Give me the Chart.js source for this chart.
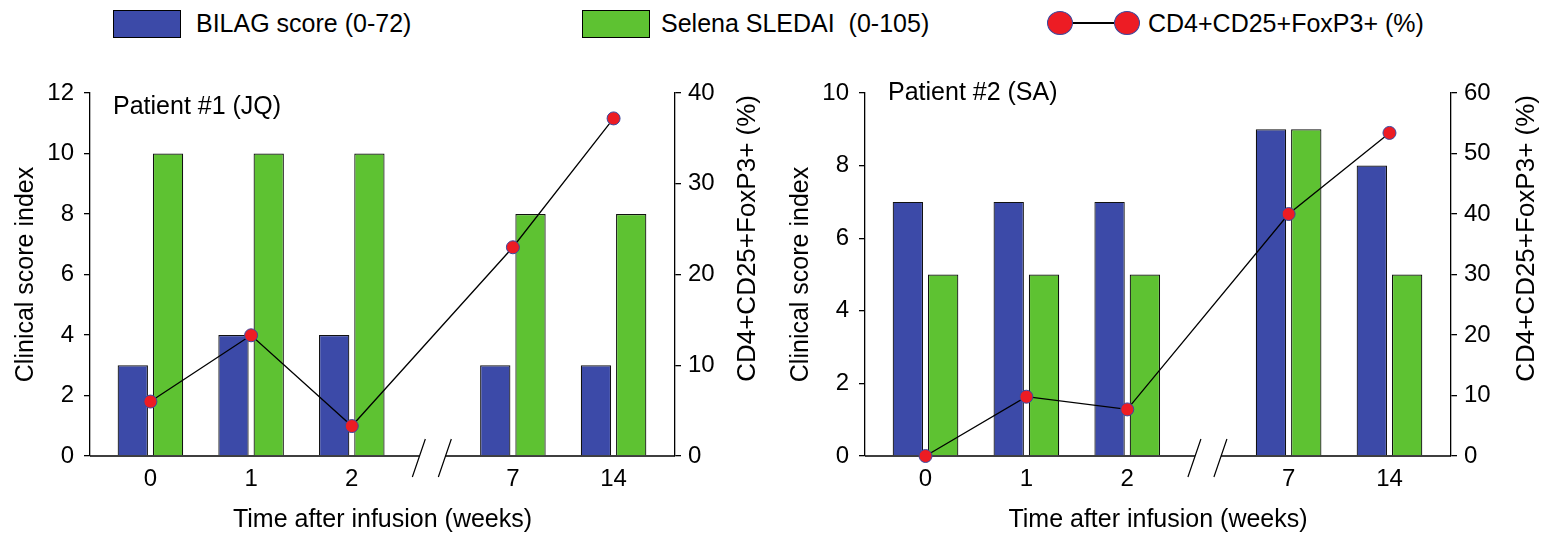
<!DOCTYPE html>
<html>
<head>
<meta charset="utf-8">
<script src="https://cdn.jsdelivr.net/npm/chart.js@4.4.1/dist/chart.umd.min.js"></script>
<style>
body { margin: 0; background: #fff; width: 1542px; height: 536px; overflow: hidden; position: relative;
       font-family: "Liberation Sans", Arial, sans-serif; color: #000; }
.lg { position: absolute; top: 8px; font-size: 25px; line-height: 30px; white-space: pre; }
.box { position: absolute; top: 10px; width: 66px; height: 26px; border: 1px solid #000; }
.dot { position: absolute; top: 11px; width: 24px; height: 22px; border-radius: 50%;
       background: #ed1c24; border: 1px solid #3a4aa0; }
.bar { position: absolute; top: 22px; left: 1072px; width: 42px; height: 2px; background: #000; }
canvas { position: absolute; top: 60px; }
</style>
</head>
<body>
<div class="box" style="left:113px;background:#3c4aa8"></div>
<div class="lg" style="left:196px">BILAG score (0-72)</div>
<div class="box" style="left:582px;background:#5ec232"></div>
<div class="lg" style="left:661px">Selena SLEDAI  (0-105)</div>
<div class="bar"></div>
<div class="dot" style="left:1047px"></div>
<div class="dot" style="left:1114px"></div>
<div class="lg" style="left:1148px">CD4+CD25+FoxP3+ (%)</div>

<canvas id="p1" width="771" height="476" style="left:0"></canvas>
<canvas id="p2" width="771" height="476" style="left:771px"></canvas>

<script>
// week labels on the x axis
const weeks = ['0', '1', '2', '7', '14'];

// patient #1 (JQ)
const p1Bilag = [3, 4, 4, 3, 3];
const p1Sledai = [10, 10, 10, 8, 8];
const p1Treg = [6, 13.3, 3.3, 23, 37.2];

// patient #2 (SA)
const p2Bilag = [7, 7, 7, 9, 8];
const p2Sledai = [5, 5, 5, 9, 5];
const p2Treg = [0, 9.8, 7.7, 40, 53.4];

// where each week sits on the x scale (axis is broken between 2 and 7)
const slot = [0, 1, 2, 3.6, 4.6];

Chart.defaults.font.family = '"Liberation Sans", Arial, sans-serif';
Chart.defaults.color = '#000';

const panelPlugin = {
  id: 'panelText',
  beforeDatasetsDraw(chart) {
    // x axis line with the break marks
    const { ctx, chartArea: a, scales: { x } } = chart;
    const c = x.getPixelForValue((slot[2] + slot[3]) / 2);
    const y = a.bottom;
    ctx.save();
    ctx.strokeStyle = '#000';
    ctx.lineWidth = 1.5;
    ctx.beginPath();
    ctx.moveTo(a.left, y); ctx.lineTo(c - 13, y);
    ctx.moveTo(c + 13, y); ctx.lineTo(a.right, y);
    ctx.stroke();
    ctx.lineWidth = 1.2;
    ctx.beginPath();
    ctx.moveTo(c - 20, y + 21); ctx.lineTo(c - 7, y - 17);
    ctx.moveTo(c + 6, y + 21); ctx.lineTo(c + 19, y - 17);
    ctx.stroke();
    ctx.restore();
  },
  afterDraw(chart, args, opts) {
    const { ctx, chartArea: a } = chart;
    ctx.save();
    ctx.fillStyle = '#000';
    ctx.font = '25px "Liberation Sans", Arial, sans-serif';
    ctx.textBaseline = 'middle';
    ctx.textAlign = 'left';
    ctx.fillText(opts.title, a.left + 23, a.top + opts.titleDy);
    // right axis title reads bottom-to-top, ends at the top of the axis
    ctx.font = '26px "Liberation Sans", Arial, sans-serif';
    ctx.translate(a.right + opts.rightTitleDx, a.top + 2);
    ctx.rotate(-Math.PI / 2);
    ctx.textAlign = 'right';
    ctx.fillText('CD4+CD25+FoxP3+ (%)', 0, 0);
    ctx.restore();
  }
};

function makePanel(id, bilag, sledai, treg, cfg) {
  const pts = arr => arr.map((v, i) => ({ x: slot[i], y: v }));
  return new Chart(document.getElementById(id), {
    type: 'bar',
    data: {
      datasets: [
        {
          type: 'line', label: 'CD4+CD25+FoxP3+ (%)', data: pts(treg), yAxisID: 'y2',
          borderColor: '#000', borderWidth: 1.3,
          pointRadius: 6.5, pointBackgroundColor: '#ed1c24', pointBorderColor: '#3a4aa0', pointBorderWidth: 1,
          clip: false, order: 0
        },
        { label: 'BILAG score (0-72)', data: pts(bilag), backgroundColor: '#3c4aa8', borderColor: '#111', borderWidth: 1.2, order: 1 },
        { label: 'Selena SLEDAI  (0-105)', data: pts(sledai), backgroundColor: '#5ec232', borderColor: '#111', borderWidth: 1.2, order: 1 }
      ]
    },
    options: {
      responsive: false,
      animation: false,
      datasets: { bar: { categoryPercentage: 0.70, barPercentage: 0.86 } },
      layout: { padding: { top: 33, left: 0, right: 0, bottom: 0 } },
      plugins: { legend: { display: false }, tooltip: { enabled: false }, panelText: cfg },
      scales: {
        x: {
          type: 'linear', min: -0.6, max: 5.21, offset: false,
          grid: { display: false, drawTicks: false, offset: false },
          border: { display: false },
          afterBuildTicks: s => { s.ticks = slot.map(v => ({ value: v })); },
          ticks: { autoSkip: false, maxRotation: 0, padding: 9, font: { size: 24 }, callback: (v, i) => weeks[i] },
          title: { display: true, text: 'Time after infusion (weeks)', font: { size: 25 }, padding: { top: 0, bottom: 1 } },
          afterFit: s => { s.height = 80; }
        },
        y: {
          position: 'left', min: 0, max: cfg.leftMax,
          ticks: { stepSize: 2, padding: 10, font: { size: 24 } },
          grid: { drawOnChartArea: false, tickLength: 6, color: '#000', lineWidth: 1.3 },
          border: { color: '#000', width: 1.3 },
          title: { display: true, text: 'Clinical score index', font: { size: 25 }, padding: { top: cfg.leftTitlePad, bottom: 0 } },
          afterFit: s => { s.width = cfg.leftW; }
        },
        y2: {
          position: 'right', min: 0, max: cfg.rightMax,
          ticks: { stepSize: 10, padding: 7, font: { size: 24 } },
          grid: { drawOnChartArea: false, tickLength: 6, color: '#000', lineWidth: 1.3 },
          border: { color: '#000', width: 1.3 },
          afterFit: s => { s.width = cfg.rightW; }
        }
      }
    },
    plugins: [panelPlugin]
  });
}

makePanel('p1', p1Bilag, p1Sledai, p1Treg, {
  title: 'Patient #1 (JQ)', titleDy: 14, leftMax: 12, rightMax: 40,
  leftW: 90, rightW: 96, leftTitlePad: 11.5, rightTitleDx: 72.5
});
makePanel('p2', p2Bilag, p2Sledai, p2Treg, {
  title: 'Patient #2 (SA)', titleDy: 0, leftMax: 10, rightMax: 60,
  leftW: 94, rightW: 91, leftTitlePad: 15.5, rightTitleDx: 76
});
</script>
</body>
</html>
